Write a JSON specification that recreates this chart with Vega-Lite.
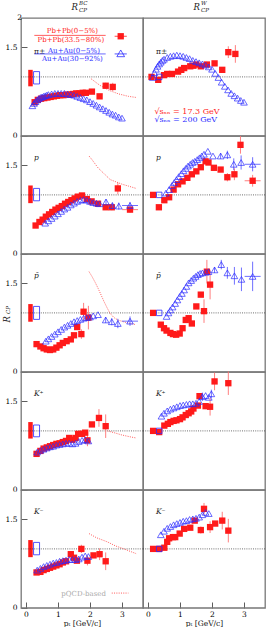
{
"$schema":"https://vega.github.io/schema/vega-lite/v6.json",
"padding":{"left":2,"top":0,"right":0,"bottom":0},
"background":"white",
"bounds":"flush",
"data":{"values":[
{"c":"BC","r":"pi","s":"tag","t":"π±"},{"c":"W","r":"pi","s":"tag","t":"π±"},
{"c":"BC","r":"p","s":"tag","t":"p"},{"c":"W","r":"p","s":"tag","t":"p"},
{"c":"BC","r":"pb","s":"tag","t":"p̄"},{"c":"W","r":"pb","s":"tag","t":"p̄"},
{"c":"BC","r":"kp","s":"tag","t":"K⁺"},{"c":"W","r":"kp","s":"tag","t":"K⁺"},
{"c":"BC","r":"km","s":"tag","t":"K⁻"},{"c":"W","r":"km","s":"tag","t":"K⁻"},
{"c":"BC","r":"pi","s":"SPb","x":0.14,"lo":0.84,"hi":1.12},{"c":"BC","r":"pi","s":"SAu","x":0.33,"lo":0.88,"hi":1.09},
{"c":"BC","r":"p","s":"SPb","x":0.14,"lo":0.86,"hi":1.16},{"c":"BC","r":"p","s":"SAu","x":0.33,"lo":0.90,"hi":1.11},
{"c":"BC","r":"pb","s":"SPb","x":0.14,"lo":0.85,"hi":1.15},{"c":"BC","r":"pb","s":"SAu","x":0.33,"lo":0.89,"hi":1.11},
{"c":"BC","r":"kp","s":"SPb","x":0.14,"lo":0.87,"hi":1.15},{"c":"BC","r":"kp","s":"SAu","x":0.33,"lo":0.90,"hi":1.10},
{"c":"BC","r":"km","s":"SPb","x":0.14,"lo":0.86,"hi":1.15},{"c":"BC","r":"km","s":"SAu","x":0.33,"lo":0.90,"hi":1.11},
{"c":"W","r":"pi","s":"AuN","x":0.35,"y":1.0},{"c":"W","r":"p","s":"AuN","x":0.35,"y":1.0},{"c":"W","r":"pb","s":"AuN","x":0.35,"y":1.0},{"c":"W","r":"kp","s":"AuN","x":0.35,"y":1.0},{"c":"W","r":"km","s":"AuN","x":0.35,"y":1.0},

{"c":"BC","r":"pi","s":"Pb","x":0.27,"y":0.57},{"c":"BC","r":"pi","s":"Pb","x":0.37,"y":0.61},{"c":"BC","r":"pi","s":"Pb","x":0.47,"y":0.63},{"c":"BC","r":"pi","s":"Pb","x":0.57,"y":0.64},{"c":"BC","r":"pi","s":"Pb","x":0.67,"y":0.65},{"c":"BC","r":"pi","s":"Pb","x":0.77,"y":0.66},{"c":"BC","r":"pi","s":"Pb","x":0.87,"y":0.67},{"c":"BC","r":"pi","s":"Pb","x":0.97,"y":0.68},{"c":"BC","r":"pi","s":"Pb","x":1.07,"y":0.69},{"c":"BC","r":"pi","s":"Pb","x":1.17,"y":0.69},{"c":"BC","r":"pi","s":"Pb","x":1.27,"y":0.70},{"c":"BC","r":"pi","s":"Pb","x":1.37,"y":0.70},{"c":"BC","r":"pi","s":"Pb","x":1.47,"y":0.71},{"c":"BC","r":"pi","s":"Pb","x":1.57,"y":0.72},{"c":"BC","r":"pi","s":"Pb","x":1.67,"y":0.72},{"c":"BC","r":"pi","s":"Pb","x":1.77,"y":0.73},{"c":"BC","r":"pi","s":"Pb","x":1.87,"y":0.73},{"c":"BC","r":"pi","s":"Pb","x":2.06,"y":0.75},{"c":"BC","r":"pi","s":"Pb","x":2.3,"y":0.67},{"c":"BC","r":"pi","s":"Pb","x":2.49,"y":0.85,"e":0.05},{"c":"BC","r":"pi","s":"Pb","x":2.71,"y":0.83,"e":0.07},

{"c":"BC","r":"pi","s":"Au","x":0.2,"y":0.51},{"c":"BC","r":"pi","s":"Au","x":0.25,"y":0.55},{"c":"BC","r":"pi","s":"Au","x":0.3,"y":0.58},{"c":"BC","r":"pi","s":"Au","x":0.35,"y":0.61},{"c":"BC","r":"pi","s":"Au","x":0.4,"y":0.63},{"c":"BC","r":"pi","s":"Au","x":0.45,"y":0.65},{"c":"BC","r":"pi","s":"Au","x":0.5,"y":0.66},{"c":"BC","r":"pi","s":"Au","x":0.55,"y":0.67},{"c":"BC","r":"pi","s":"Au","x":0.6,"y":0.68},{"c":"BC","r":"pi","s":"Au","x":0.65,"y":0.69},{"c":"BC","r":"pi","s":"Au","x":0.7,"y":0.70},{"c":"BC","r":"pi","s":"Au","x":0.8,"y":0.71},{"c":"BC","r":"pi","s":"Au","x":0.9,"y":0.72},{"c":"BC","r":"pi","s":"Au","x":1.0,"y":0.72},{"c":"BC","r":"pi","s":"Au","x":1.1,"y":0.72},{"c":"BC","r":"pi","s":"Au","x":1.2,"y":0.72},{"c":"BC","r":"pi","s":"Au","x":1.3,"y":0.71},{"c":"BC","r":"pi","s":"Au","x":1.4,"y":0.70},{"c":"BC","r":"pi","s":"Au","x":1.5,"y":0.69},{"c":"BC","r":"pi","s":"Au","x":1.6,"y":0.67},{"c":"BC","r":"pi","s":"Au","x":1.7,"y":0.65},{"c":"BC","r":"pi","s":"Au","x":1.8,"y":0.63},{"c":"BC","r":"pi","s":"Au","x":1.9,"y":0.61},{"c":"BC","r":"pi","s":"Au","x":2.0,"y":0.58},{"c":"BC","r":"pi","s":"Au","x":2.1,"y":0.55},{"c":"BC","r":"pi","s":"Au","x":2.2,"y":0.52},{"c":"BC","r":"pi","s":"Au","x":2.3,"y":0.49},{"c":"BC","r":"pi","s":"Au","x":2.4,"y":0.46},{"c":"BC","r":"pi","s":"Au","x":2.5,"y":0.43},{"c":"BC","r":"pi","s":"Au","x":2.6,"y":0.40},{"c":"BC","r":"pi","s":"Au","x":2.7,"y":0.37},{"c":"BC","r":"pi","s":"Au","x":2.8,"y":0.35},{"c":"BC","r":"pi","s":"Au","x":2.9,"y":0.32},{"c":"BC","r":"pi","s":"Au","x":3.0,"y":0.30},
{"c":"BC","r":"pi","s":"Q","x":2.03,"y":0.97},{"c":"BC","r":"pi","s":"Q","x":2.3,"y":0.86},{"c":"BC","r":"pi","s":"Q","x":2.6,"y":0.77},{"c":"BC","r":"pi","s":"Q","x":2.9,"y":0.71},{"c":"BC","r":"pi","s":"Q","x":3.2,"y":0.67},{"c":"BC","r":"pi","s":"Q","x":3.46,"y":0.65},

{"c":"W","r":"pi","s":"Pb","x":0.11,"y":1.0},{"c":"W","r":"pi","s":"Pb","x":0.32,"y":0.95},{"c":"W","r":"pi","s":"Pb","x":0.5,"y":1.03},{"c":"W","r":"pi","s":"Pb","x":0.6,"y":1.05},{"c":"W","r":"pi","s":"Pb","x":0.75,"y":1.05},{"c":"W","r":"pi","s":"Pb","x":0.94,"y":1.09},{"c":"W","r":"pi","s":"Pb","x":1.04,"y":1.12},{"c":"W","r":"pi","s":"Pb","x":1.13,"y":1.15},{"c":"W","r":"pi","s":"Pb","x":1.32,"y":1.18},{"c":"W","r":"pi","s":"Pb","x":1.42,"y":1.19},{"c":"W","r":"pi","s":"Pb","x":1.51,"y":1.21},{"c":"W","r":"pi","s":"Pb","x":1.65,"y":1.18},{"c":"W","r":"pi","s":"Pb","x":1.84,"y":1.21},{"c":"W","r":"pi","s":"Pb","x":2.08,"y":1.23},{"c":"W","r":"pi","s":"Pb","x":2.32,"y":1.12},{"c":"W","r":"pi","s":"Pb","x":2.51,"y":1.42,"e":0.1},{"c":"W","r":"pi","s":"Pb","x":2.73,"y":1.39,"e":0.15},

{"c":"W","r":"pi","s":"Au","x":0.15,"y":0.99},{"c":"W","r":"pi","s":"Au","x":0.2,"y":1.07},{"c":"W","r":"pi","s":"Au","x":0.25,"y":1.13},{"c":"W","r":"pi","s":"Au","x":0.3,"y":1.18},{"c":"W","r":"pi","s":"Au","x":0.35,"y":1.22},{"c":"W","r":"pi","s":"Au","x":0.4,"y":1.25},{"c":"W","r":"pi","s":"Au","x":0.45,"y":1.28},{"c":"W","r":"pi","s":"Au","x":0.5,"y":1.30},{"c":"W","r":"pi","s":"Au","x":0.6,"y":1.33},{"c":"W","r":"pi","s":"Au","x":0.7,"y":1.35},{"c":"W","r":"pi","s":"Au","x":0.8,"y":1.36},{"c":"W","r":"pi","s":"Au","x":0.9,"y":1.37},{"c":"W","r":"pi","s":"Au","x":1.0,"y":1.36},{"c":"W","r":"pi","s":"Au","x":1.1,"y":1.35},{"c":"W","r":"pi","s":"Au","x":1.2,"y":1.33},{"c":"W","r":"pi","s":"Au","x":1.3,"y":1.31},{"c":"W","r":"pi","s":"Au","x":1.4,"y":1.28},{"c":"W","r":"pi","s":"Au","x":1.5,"y":1.26},{"c":"W","r":"pi","s":"Au","x":1.6,"y":1.24},{"c":"W","r":"pi","s":"Au","x":1.7,"y":1.22},{"c":"W","r":"pi","s":"Au","x":1.8,"y":1.20},{"c":"W","r":"pi","s":"Au","x":1.9,"y":1.17},{"c":"W","r":"pi","s":"Au","x":2.0,"y":1.13},{"c":"W","r":"pi","s":"Au","x":2.1,"y":1.06},{"c":"W","r":"pi","s":"Au","x":2.2,"y":0.99},{"c":"W","r":"pi","s":"Au","x":2.3,"y":0.91},{"c":"W","r":"pi","s":"Au","x":2.4,"y":0.84},{"c":"W","r":"pi","s":"Au","x":2.5,"y":0.78},{"c":"W","r":"pi","s":"Au","x":2.6,"y":0.72},{"c":"W","r":"pi","s":"Au","x":2.7,"y":0.68},{"c":"W","r":"pi","s":"Au","x":2.8,"y":0.64},{"c":"W","r":"pi","s":"Au","x":2.9,"y":0.60},{"c":"W","r":"pi","s":"Au","x":3.0,"y":0.57},

{"c":"BC","r":"p","s":"Pb","x":0.30,"y":0.48},{"c":"BC","r":"p","s":"Pb","x":0.42,"y":0.54},{"c":"BC","r":"p","s":"Pb","x":0.52,"y":0.58},{"c":"BC","r":"p","s":"Pb","x":0.62,"y":0.63},{"c":"BC","r":"p","s":"Pb","x":0.72,"y":0.67},{"c":"BC","r":"p","s":"Pb","x":0.82,"y":0.71},{"c":"BC","r":"p","s":"Pb","x":0.92,"y":0.75},{"c":"BC","r":"p","s":"Pb","x":1.02,"y":0.78},{"c":"BC","r":"p","s":"Pb","x":1.12,"y":0.81},{"c":"BC","r":"p","s":"Pb","x":1.22,"y":0.85},{"c":"BC","r":"p","s":"Pb","x":1.32,"y":0.88},{"c":"BC","r":"p","s":"Pb","x":1.42,"y":0.91},{"c":"BC","r":"p","s":"Pb","x":1.52,"y":0.94},{"c":"BC","r":"p","s":"Pb","x":1.62,"y":0.97},{"c":"BC","r":"p","s":"Pb","x":1.75,"y":0.99},{"c":"BC","r":"p","s":"Pb","x":1.9,"y":0.93},{"c":"BC","r":"p","s":"Pb","x":2.05,"y":0.89},{"c":"BC","r":"p","s":"Pb","x":2.25,"y":0.85},{"c":"BC","r":"p","s":"Pb","x":2.49,"y":0.79,"e":0.04},{"c":"BC","r":"p","s":"Pb","x":2.68,"y":0.79,"e":0.05},{"c":"BC","r":"p","s":"Pb","x":2.87,"y":1.11,"e":0.1},{"c":"BC","r":"p","s":"Pb","x":3.25,"y":0.75,"e":0.05,"xe":0.25},

{"c":"BC","r":"p","s":"Au","x":0.6,"y":0.52},{"c":"BC","r":"p","s":"Au","x":0.7,"y":0.56},{"c":"BC","r":"p","s":"Au","x":0.8,"y":0.60},{"c":"BC","r":"p","s":"Au","x":0.9,"y":0.64},{"c":"BC","r":"p","s":"Au","x":1.0,"y":0.68},{"c":"BC","r":"p","s":"Au","x":1.1,"y":0.72},{"c":"BC","r":"p","s":"Au","x":1.2,"y":0.76},{"c":"BC","r":"p","s":"Au","x":1.3,"y":0.79},{"c":"BC","r":"p","s":"Au","x":1.4,"y":0.83},{"c":"BC","r":"p","s":"Au","x":1.5,"y":0.86},{"c":"BC","r":"p","s":"Au","x":1.6,"y":0.89},{"c":"BC","r":"p","s":"Au","x":1.7,"y":0.91},{"c":"BC","r":"p","s":"Au","x":1.8,"y":0.92},{"c":"BC","r":"p","s":"Au","x":1.9,"y":0.91},{"c":"BC","r":"p","s":"Au","x":2.0,"y":0.89},{"c":"BC","r":"p","s":"Au","x":2.1,"y":0.87},{"c":"BC","r":"p","s":"Au","x":2.2,"y":0.86},{"c":"BC","r":"p","s":"Au","x":2.3,"y":0.85},{"c":"BC","r":"p","s":"Au","x":2.5,"y":0.88,"e":0.05},{"c":"BC","r":"p","s":"Au","x":2.7,"y":0.82,"e":0.05},{"c":"BC","r":"p","s":"Au","x":2.9,"y":0.81,"e":0.06},{"c":"BC","r":"p","s":"Au","x":3.25,"y":0.82,"e":0.06,"xe":0.25},
{"c":"BC","r":"p","s":"Q","x":1.97,"y":1.66},{"c":"BC","r":"p","s":"Q","x":2.06,"y":1.60},{"c":"BC","r":"p","s":"Q","x":2.25,"y":1.46},{"c":"BC","r":"p","s":"Q","x":2.44,"y":1.36},{"c":"BC","r":"p","s":"Q","x":2.63,"y":1.26},{"c":"BC","r":"p","s":"Q","x":2.82,"y":1.22},{"c":"BC","r":"p","s":"Q","x":3.01,"y":1.18},{"c":"BC","r":"p","s":"Q","x":3.2,"y":1.15},{"c":"BC","r":"p","s":"Q","x":3.44,"y":1.11},

{"c":"W","r":"p","s":"Pb","x":0.16,"y":1.0},{"c":"W","r":"p","s":"Pb","x":0.34,"y":0.79},{"c":"W","r":"p","s":"Pb","x":0.51,"y":0.91},{"c":"W","r":"p","s":"Pb","x":0.66,"y":0.96},{"c":"W","r":"p","s":"Pb","x":0.8,"y":1.09},{"c":"W","r":"p","s":"Pb","x":0.94,"y":1.18},{"c":"W","r":"p","s":"Pb","x":1.08,"y":1.23},{"c":"W","r":"p","s":"Pb","x":1.23,"y":1.29},{"c":"W","r":"p","s":"Pb","x":1.37,"y":1.35},{"c":"W","r":"p","s":"Pb","x":1.51,"y":1.40},{"c":"W","r":"p","s":"Pb","x":1.65,"y":1.47},{"c":"W","r":"p","s":"Pb","x":1.8,"y":1.57},{"c":"W","r":"p","s":"Pb","x":1.89,"y":1.55},{"c":"W","r":"p","s":"Pb","x":2.06,"y":1.46},{"c":"W","r":"p","s":"Pb","x":2.27,"y":1.43},{"c":"W","r":"p","s":"Pb","x":2.48,"y":1.30,"e":0.07},{"c":"W","r":"p","s":"Pb","x":2.7,"y":1.35,"e":0.1},{"c":"W","r":"p","s":"Pb","x":2.89,"y":1.85,"e":0.15},{"c":"W","r":"p","s":"Pb","x":3.27,"y":1.24,"e":0.1,"xe":0.25},

{"c":"W","r":"p","s":"Au","x":0.56,"y":1.03},{"c":"W","r":"p","s":"Au","x":0.66,"y":1.09},{"c":"W","r":"p","s":"Au","x":0.75,"y":1.16},{"c":"W","r":"p","s":"Au","x":0.82,"y":1.21},{"c":"W","r":"p","s":"Au","x":0.89,"y":1.26},{"c":"W","r":"p","s":"Au","x":0.96,"y":1.31},{"c":"W","r":"p","s":"Au","x":1.04,"y":1.36},{"c":"W","r":"p","s":"Au","x":1.11,"y":1.41},{"c":"W","r":"p","s":"Au","x":1.18,"y":1.45},{"c":"W","r":"p","s":"Au","x":1.25,"y":1.49},{"c":"W","r":"p","s":"Au","x":1.32,"y":1.52},{"c":"W","r":"p","s":"Au","x":1.39,"y":1.55},{"c":"W","r":"p","s":"Au","x":1.46,"y":1.57},{"c":"W","r":"p","s":"Au","x":1.54,"y":1.60},{"c":"W","r":"p","s":"Au","x":1.61,"y":1.63},{"c":"W","r":"p","s":"Au","x":1.68,"y":1.66},{"c":"W","r":"p","s":"Au","x":1.75,"y":1.69},{"c":"W","r":"p","s":"Au","x":1.87,"y":1.74},{"c":"W","r":"p","s":"Au","x":2.03,"y":1.66},{"c":"W","r":"p","s":"Au","x":2.27,"y":1.66,"e":0.05},{"c":"W","r":"p","s":"Au","x":2.48,"y":1.68,"e":0.07},{"c":"W","r":"p","s":"Au","x":2.68,"y":1.52,"e":0.1},{"c":"W","r":"p","s":"Au","x":2.91,"y":1.55,"e":0.12},{"c":"W","r":"p","s":"Au","x":3.27,"y":1.52,"e":0.12,"xe":0.25},

{"c":"BC","r":"pb","s":"Pb","x":0.33,"y":0.47},{"c":"BC","r":"pb","s":"Pb","x":0.45,"y":0.43},{"c":"BC","r":"pb","s":"Pb","x":0.55,"y":0.40},{"c":"BC","r":"pb","s":"Pb","x":0.65,"y":0.38},{"c":"BC","r":"pb","s":"Pb","x":0.75,"y":0.37},{"c":"BC","r":"pb","s":"Pb","x":0.85,"y":0.38},{"c":"BC","r":"pb","s":"Pb","x":0.95,"y":0.41},{"c":"BC","r":"pb","s":"Pb","x":1.05,"y":0.45},{"c":"BC","r":"pb","s":"Pb","x":1.15,"y":0.49},{"c":"BC","r":"pb","s":"Pb","x":1.27,"y":0.52},{"c":"BC","r":"pb","s":"Pb","x":1.4,"y":0.55},{"c":"BC","r":"pb","s":"Pb","x":1.5,"y":0.62},{"c":"BC","r":"pb","s":"Pb","x":1.6,"y":0.76},{"c":"BC","r":"pb","s":"Pb","x":1.73,"y":0.64,"e":0.08},{"c":"BC","r":"pb","s":"Pb","x":1.8,"y":1.02,"e":0.15},{"c":"BC","r":"pb","s":"Pb","x":1.95,"y":0.92,"e":0.2},

{"c":"BC","r":"pb","s":"Au","x":0.62,"y":0.52},{"c":"BC","r":"pb","s":"Au","x":0.7,"y":0.56},{"c":"BC","r":"pb","s":"Au","x":0.8,"y":0.60},{"c":"BC","r":"pb","s":"Au","x":0.9,"y":0.64},{"c":"BC","r":"pb","s":"Au","x":1.0,"y":0.68},{"c":"BC","r":"pb","s":"Au","x":1.1,"y":0.72},{"c":"BC","r":"pb","s":"Au","x":1.2,"y":0.76},{"c":"BC","r":"pb","s":"Au","x":1.3,"y":0.79},{"c":"BC","r":"pb","s":"Au","x":1.4,"y":0.82},{"c":"BC","r":"pb","s":"Au","x":1.5,"y":0.85},{"c":"BC","r":"pb","s":"Au","x":1.6,"y":0.87},{"c":"BC","r":"pb","s":"Au","x":1.7,"y":0.89},{"c":"BC","r":"pb","s":"Au","x":1.8,"y":0.91},{"c":"BC","r":"pb","s":"Au","x":1.9,"y":0.92},{"c":"BC","r":"pb","s":"Au","x":2.0,"y":0.93},{"c":"BC","r":"pb","s":"Au","x":2.1,"y":0.95},{"c":"BC","r":"pb","s":"Au","x":2.25,"y":0.97},{"c":"BC","r":"pb","s":"Au","x":2.49,"y":0.88,"e":0.05},{"c":"BC","r":"pb","s":"Au","x":2.68,"y":0.85,"e":0.06},{"c":"BC","r":"pb","s":"Au","x":2.87,"y":0.82,"e":0.08},{"c":"BC","r":"pb","s":"Au","x":3.25,"y":0.86,"e":0.08,"xe":0.25},
{"c":"BC","r":"pb","s":"Q","x":1.97,"y":1.70},{"c":"BC","r":"pb","s":"Q","x":2.06,"y":1.62},{"c":"BC","r":"pb","s":"Q","x":2.16,"y":1.52},{"c":"BC","r":"pb","s":"Q","x":2.25,"y":1.42},{"c":"BC","r":"pb","s":"Q","x":2.35,"y":1.30},{"c":"BC","r":"pb","s":"Q","x":2.44,"y":1.19},{"c":"BC","r":"pb","s":"Q","x":2.54,"y":1.08},{"c":"BC","r":"pb","s":"Q","x":2.63,"y":0.99},{"c":"BC","r":"pb","s":"Q","x":2.75,"y":0.92},{"c":"BC","r":"pb","s":"Q","x":2.87,"y":0.88},{"c":"BC","r":"pb","s":"Q","x":3.1,"y":0.84},{"c":"BC","r":"pb","s":"Q","x":3.44,"y":0.80},

{"c":"W","r":"pb","s":"Pb","x":0.16,"y":1.0},{"c":"W","r":"pb","s":"Pb","x":0.4,"y":0.80},{"c":"W","r":"pb","s":"Pb","x":0.5,"y":0.74},{"c":"W","r":"pb","s":"Pb","x":0.58,"y":0.70},{"c":"W","r":"pb","s":"Pb","x":0.7,"y":0.66},{"c":"W","r":"pb","s":"Pb","x":0.78,"y":0.64},{"c":"W","r":"pb","s":"Pb","x":0.88,"y":0.63},{"c":"W","r":"pb","s":"Pb","x":0.99,"y":0.65},{"c":"W","r":"pb","s":"Pb","x":1.08,"y":0.74},{"c":"W","r":"pb","s":"Pb","x":1.18,"y":0.88},{"c":"W","r":"pb","s":"Pb","x":1.27,"y":0.91},{"c":"W","r":"pb","s":"Pb","x":1.37,"y":0.82},{"c":"W","r":"pb","s":"Pb","x":1.51,"y":1.11},{"c":"W","r":"pb","s":"Pb","x":1.65,"y":1.31},{"c":"W","r":"pb","s":"Pb","x":1.75,"y":1.03,"e":0.2},{"c":"W","r":"pb","s":"Pb","x":1.84,"y":1.70,"e":0.2},{"c":"W","r":"pb","s":"Pb","x":1.94,"y":1.48,"e":0.25},

{"c":"W","r":"pb","s":"Au","x":0.58,"y":0.94},{"c":"W","r":"pb","s":"Au","x":0.64,"y":1.0},{"c":"W","r":"pb","s":"Au","x":0.70,"y":1.05},{"c":"W","r":"pb","s":"Au","x":0.77,"y":1.10},{"c":"W","r":"pb","s":"Au","x":0.85,"y":1.16},{"c":"W","r":"pb","s":"Au","x":0.92,"y":1.22},{"c":"W","r":"pb","s":"Au","x":0.99,"y":1.28},{"c":"W","r":"pb","s":"Au","x":1.06,"y":1.33},{"c":"W","r":"pb","s":"Au","x":1.13,"y":1.39},{"c":"W","r":"pb","s":"Au","x":1.2,"y":1.45},{"c":"W","r":"pb","s":"Au","x":1.27,"y":1.51},{"c":"W","r":"pb","s":"Au","x":1.35,"y":1.55},{"c":"W","r":"pb","s":"Au","x":1.42,"y":1.59},{"c":"W","r":"pb","s":"Au","x":1.49,"y":1.62},{"c":"W","r":"pb","s":"Au","x":1.56,"y":1.65},{"c":"W","r":"pb","s":"Au","x":1.63,"y":1.67},{"c":"W","r":"pb","s":"Au","x":1.7,"y":1.68},{"c":"W","r":"pb","s":"Au","x":1.8,"y":1.69},{"c":"W","r":"pb","s":"Au","x":1.89,"y":1.70},{"c":"W","r":"pb","s":"Au","x":2.08,"y":1.73,"e":0.05},{"c":"W","r":"pb","s":"Au","x":2.29,"y":1.82,"e":0.08},{"c":"W","r":"pb","s":"Au","x":2.48,"y":1.68,"e":0.1},{"c":"W","r":"pb","s":"Au","x":2.7,"y":1.63,"e":0.15},{"c":"W","r":"pb","s":"Au","x":2.92,"y":1.57,"e":0.2},{"c":"W","r":"pb","s":"Au","x":3.27,"y":1.62,"e":0.25,"xe":0.25},

{"c":"BC","r":"kp","s":"Pb","x":0.33,"y":0.61},{"c":"BC","r":"kp","s":"Pb","x":0.45,"y":0.66},{"c":"BC","r":"kp","s":"Pb","x":0.55,"y":0.70},{"c":"BC","r":"kp","s":"Pb","x":0.65,"y":0.72},{"c":"BC","r":"kp","s":"Pb","x":0.75,"y":0.74},{"c":"BC","r":"kp","s":"Pb","x":0.85,"y":0.76},{"c":"BC","r":"kp","s":"Pb","x":0.95,"y":0.78},{"c":"BC","r":"kp","s":"Pb","x":1.05,"y":0.79},{"c":"BC","r":"kp","s":"Pb","x":1.15,"y":0.81},{"c":"BC","r":"kp","s":"Pb","x":1.25,"y":0.83},{"c":"BC","r":"kp","s":"Pb","x":1.35,"y":0.88},{"c":"BC","r":"kp","s":"Pb","x":1.45,"y":0.85},{"c":"BC","r":"kp","s":"Pb","x":1.55,"y":0.88},{"c":"BC","r":"kp","s":"Pb","x":1.63,"y":0.95},{"c":"BC","r":"kp","s":"Pb","x":1.75,"y":0.95},{"c":"BC","r":"kp","s":"Pb","x":1.85,"y":0.97},{"c":"BC","r":"kp","s":"Pb","x":1.92,"y":0.84,"e":0.1},{"c":"BC","r":"kp","s":"Pb","x":2.06,"y":1.11},{"c":"BC","r":"kp","s":"Pb","x":2.28,"y":1.22,"e":0.15},{"c":"BC","r":"kp","s":"Pb","x":2.49,"y":1.08,"e":0.2},

{"c":"BC","r":"kp","s":"Au","x":0.35,"y":0.64},{"c":"BC","r":"kp","s":"Au","x":0.45,"y":0.67},{"c":"BC","r":"kp","s":"Au","x":0.55,"y":0.69},{"c":"BC","r":"kp","s":"Au","x":0.65,"y":0.71},{"c":"BC","r":"kp","s":"Au","x":0.75,"y":0.73},{"c":"BC","r":"kp","s":"Au","x":0.85,"y":0.74},{"c":"BC","r":"kp","s":"Au","x":0.95,"y":0.76},{"c":"BC","r":"kp","s":"Au","x":1.05,"y":0.77},{"c":"BC","r":"kp","s":"Au","x":1.15,"y":0.78},{"c":"BC","r":"kp","s":"Au","x":1.25,"y":0.79},{"c":"BC","r":"kp","s":"Au","x":1.35,"y":0.79},{"c":"BC","r":"kp","s":"Au","x":1.45,"y":0.78},{"c":"BC","r":"kp","s":"Au","x":1.55,"y":0.79},{"c":"BC","r":"kp","s":"Au","x":1.65,"y":0.82},{"c":"BC","r":"kp","s":"Au","x":1.75,"y":0.84},{"c":"BC","r":"kp","s":"Au","x":1.85,"y":0.85},{"c":"BC","r":"kp","s":"Au","x":1.95,"y":0.83},
{"c":"BC","r":"kp","s":"Q","x":2.55,"y":1.0},{"c":"BC","r":"kp","s":"Q","x":2.75,"y":0.97},{"c":"BC","r":"kp","s":"Q","x":3.0,"y":0.93},{"c":"BC","r":"kp","s":"Q","x":3.25,"y":0.9},{"c":"BC","r":"kp","s":"Q","x":3.44,"y":0.88},

{"c":"W","r":"kp","s":"Pb","x":0.16,"y":1.0},{"c":"W","r":"kp","s":"Pb","x":0.35,"y":0.98},{"c":"W","r":"kp","s":"Pb","x":0.51,"y":1.09},{"c":"W","r":"kp","s":"Pb","x":0.62,"y":1.12},{"c":"W","r":"kp","s":"Pb","x":0.7,"y":1.15},{"c":"W","r":"kp","s":"Pb","x":0.8,"y":1.17},{"c":"W","r":"kp","s":"Pb","x":0.89,"y":1.18},{"c":"W","r":"kp","s":"Pb","x":1.0,"y":1.2},{"c":"W","r":"kp","s":"Pb","x":1.08,"y":1.23},{"c":"W","r":"kp","s":"Pb","x":1.18,"y":1.27},{"c":"W","r":"kp","s":"Pb","x":1.27,"y":1.30},{"c":"W","r":"kp","s":"Pb","x":1.35,"y":1.33},{"c":"W","r":"kp","s":"Pb","x":1.42,"y":1.38},{"c":"W","r":"kp","s":"Pb","x":1.56,"y":1.43},{"c":"W","r":"kp","s":"Pb","x":1.61,"y":1.59},{"c":"W","r":"kp","s":"Pb","x":1.8,"y":1.42,"e":0.05},{"c":"W","r":"kp","s":"Pb","x":1.94,"y":1.41,"e":0.15},{"c":"W","r":"kp","s":"Pb","x":2.08,"y":1.84,"e":0.15},{"c":"W","r":"kp","s":"Pb","x":2.51,"y":1.81,"e":0.2},

{"c":"W","r":"kp","s":"Au","x":0.42,"y":1.25},{"c":"W","r":"kp","s":"Au","x":0.5,"y":1.30},{"c":"W","r":"kp","s":"Au","x":0.6,"y":1.34},{"c":"W","r":"kp","s":"Au","x":0.7,"y":1.37},{"c":"W","r":"kp","s":"Au","x":0.8,"y":1.39},{"c":"W","r":"kp","s":"Au","x":0.9,"y":1.41},{"c":"W","r":"kp","s":"Au","x":1.0,"y":1.43},{"c":"W","r":"kp","s":"Au","x":1.1,"y":1.44},{"c":"W","r":"kp","s":"Au","x":1.2,"y":1.45},{"c":"W","r":"kp","s":"Au","x":1.3,"y":1.46},{"c":"W","r":"kp","s":"Au","x":1.4,"y":1.46},{"c":"W","r":"kp","s":"Au","x":1.5,"y":1.47},{"c":"W","r":"kp","s":"Au","x":1.6,"y":1.50},{"c":"W","r":"kp","s":"Au","x":1.7,"y":1.58,"e":0.07},{"c":"W","r":"kp","s":"Au","x":1.8,"y":1.60},{"c":"W","r":"kp","s":"Au","x":1.9,"y":1.57},{"c":"W","r":"kp","s":"Au","x":1.98,"y":1.63,"e":0.07},

{"c":"BC","r":"km","s":"Pb","x":0.33,"y":0.60},{"c":"BC","r":"km","s":"Pb","x":0.45,"y":0.61},{"c":"BC","r":"km","s":"Pb","x":0.55,"y":0.64},{"c":"BC","r":"km","s":"Pb","x":0.65,"y":0.66},{"c":"BC","r":"km","s":"Pb","x":0.75,"y":0.68},{"c":"BC","r":"km","s":"Pb","x":0.85,"y":0.70},{"c":"BC","r":"km","s":"Pb","x":0.95,"y":0.72},{"c":"BC","r":"km","s":"Pb","x":1.05,"y":0.74},{"c":"BC","r":"km","s":"Pb","x":1.15,"y":0.77},{"c":"BC","r":"km","s":"Pb","x":1.25,"y":0.79},{"c":"BC","r":"km","s":"Pb","x":1.4,"y":0.91},{"c":"BC","r":"km","s":"Pb","x":1.5,"y":0.85},{"c":"BC","r":"km","s":"Pb","x":1.59,"y":0.80},{"c":"BC","r":"km","s":"Pb","x":1.73,"y":1.00,"e":0.07},{"c":"BC","r":"km","s":"Pb","x":1.92,"y":0.80,"e":0.08},{"c":"BC","r":"km","s":"Pb","x":2.11,"y":0.89},{"c":"BC","r":"km","s":"Pb","x":2.3,"y":0.91,"e":0.1},{"c":"BC","r":"km","s":"Pb","x":2.49,"y":0.79,"e":0.15},

{"c":"BC","r":"km","s":"Au","x":0.35,"y":0.64},{"c":"BC","r":"km","s":"Au","x":0.45,"y":0.67},{"c":"BC","r":"km","s":"Au","x":0.55,"y":0.70},{"c":"BC","r":"km","s":"Au","x":0.65,"y":0.72},{"c":"BC","r":"km","s":"Au","x":0.75,"y":0.74},{"c":"BC","r":"km","s":"Au","x":0.85,"y":0.76},{"c":"BC","r":"km","s":"Au","x":0.95,"y":0.77},{"c":"BC","r":"km","s":"Au","x":1.05,"y":0.79},{"c":"BC","r":"km","s":"Au","x":1.15,"y":0.80},{"c":"BC","r":"km","s":"Au","x":1.25,"y":0.81},{"c":"BC","r":"km","s":"Au","x":1.35,"y":0.82},{"c":"BC","r":"km","s":"Au","x":1.45,"y":0.82},{"c":"BC","r":"km","s":"Au","x":1.55,"y":0.82},{"c":"BC","r":"km","s":"Au","x":1.65,"y":0.83},{"c":"BC","r":"km","s":"Au","x":1.75,"y":0.86},{"c":"BC","r":"km","s":"Au","x":1.85,"y":0.88},{"c":"BC","r":"km","s":"Au","x":1.95,"y":0.87},
{"c":"BC","r":"km","s":"Q","x":1.97,"y":1.26},{"c":"BC","r":"km","s":"Q","x":2.2,"y":1.19},{"c":"BC","r":"km","s":"Q","x":2.54,"y":1.12},{"c":"BC","r":"km","s":"Q","x":2.8,"y":1.05},{"c":"BC","r":"km","s":"Q","x":3.01,"y":1.01},{"c":"BC","r":"km","s":"Q","x":3.2,"y":0.97},{"c":"BC","r":"km","s":"Q","x":3.44,"y":0.92},

{"c":"W","r":"km","s":"Pb","x":0.16,"y":1.0},{"c":"W","r":"km","s":"Pb","x":0.35,"y":1.0},{"c":"W","r":"km","s":"Pb","x":0.51,"y":1.02},{"c":"W","r":"km","s":"Pb","x":0.6,"y":1.12},{"c":"W","r":"km","s":"Pb","x":0.66,"y":1.18},{"c":"W","r":"km","s":"Pb","x":0.78,"y":1.2},{"c":"W","r":"km","s":"Pb","x":0.85,"y":1.20},{"c":"W","r":"km","s":"Pb","x":0.99,"y":1.26},{"c":"W","r":"km","s":"Pb","x":1.13,"y":1.34},{"c":"W","r":"km","s":"Pb","x":1.32,"y":1.36},{"c":"W","r":"km","s":"Pb","x":1.46,"y":1.48},{"c":"W","r":"km","s":"Pb","x":1.65,"y":1.32,"e":0.06},{"c":"W","r":"km","s":"Pb","x":1.75,"y":1.68,"e":0.1},{"c":"W","r":"km","s":"Pb","x":1.94,"y":1.37,"e":0.1},{"c":"W","r":"km","s":"Pb","x":2.1,"y":1.43},{"c":"W","r":"km","s":"Pb","x":2.32,"y":1.48,"e":0.15},{"c":"W","r":"km","s":"Pb","x":2.51,"y":1.31,"e":0.2},

{"c":"W","r":"km","s":"Au","x":0.4,"y":1.24},{"c":"W","r":"km","s":"Au","x":0.5,"y":1.30},{"c":"W","r":"km","s":"Au","x":0.6,"y":1.35},{"c":"W","r":"km","s":"Au","x":0.7,"y":1.38},{"c":"W","r":"km","s":"Au","x":0.8,"y":1.41},{"c":"W","r":"km","s":"Au","x":0.9,"y":1.43},{"c":"W","r":"km","s":"Au","x":1.0,"y":1.45},{"c":"W","r":"km","s":"Au","x":1.1,"y":1.47},{"c":"W","r":"km","s":"Au","x":1.2,"y":1.48},{"c":"W","r":"km","s":"Au","x":1.3,"y":1.50},{"c":"W","r":"km","s":"Au","x":1.4,"y":1.51},{"c":"W","r":"km","s":"Au","x":1.5,"y":1.52},{"c":"W","r":"km","s":"Au","x":1.6,"y":1.54},{"c":"W","r":"km","s":"Au","x":1.7,"y":1.58},{"c":"W","r":"km","s":"Au","x":1.8,"y":1.62},{"c":"W","r":"km","s":"Au","x":1.9,"y":1.60}
]},
"facet":{
 "row":{"field":"r","type":"nominal","sort":["pi","p","pb","kp","km"],"header":{"labels":false,"title":null}},
 "column":{"field":"c","type":"nominal","sort":["BC","W"],"header":{"labels":false,"title":null}}
},
"spacing":{"row":0,"column":0},
"spec":{"width":122,"height":117.8,"layer":[
 {"transform":[{"filter":"datum.s=='SPb'"}],"mark":{"type":"bar","color":"#ff1a1a","width":4.5},
  "encoding":{"x":{"field":"x","type":"quantitative","title":"pₜ  [GeV/c]","scale":{"domain":[0,3.5],"nice":false,"zero":false},"axis":{"values":[0,0.5,1,1.5,2,2.5,3],"format":"~g","labelOverlap":false,"labelSeparation":-40,"labelFlush":false,"labelBound":false,"labelPadding":8,"zindex":3}},
   "y":{"field":"lo","type":"quantitative","title":null,"scale":{"domain":[0,2],"nice":false},"axis":{"values":[0,0.5,1,1.5],"format":"~g","labelOverlap":false,"labelSeparation":-40,"labelFlush":false,"labelBound":false,"labelPadding":10,"zindex":3}},"y2":{"field":"hi"}}},
 {"transform":[{"filter":"datum.s=='SAu'"}],"mark":{"type":"bar","fill":"white","fillOpacity":0,"stroke":"#2a2aff","strokeWidth":0.8,"width":6},
  "encoding":{"x":{"field":"x","type":"quantitative","title":"pₜ  [GeV/c]"},"y":{"field":"lo","type":"quantitative","title":null},"y2":{"field":"hi"}}},
 {"transform":[{"filter":"datum.s=='tag'"}],"mark":{"type":"rule","color":"#333","strokeDash":[1,1.2],"strokeWidth":0.7},"encoding":{"y":{"datum":1,"type":"quantitative","title":null}}},
 {"transform":[{"filter":"datum.s=='Q'"}],"mark":{"type":"line","color":"#ff3030","strokeDash":[1,1.3],"strokeWidth":0.8},"encoding":{"x":{"field":"x","type":"quantitative","title":"pₜ  [GeV/c]"},"y":{"field":"y","type":"quantitative","title":null}}},
 {"transform":[{"filter":"datum.s=='Pb' && datum.e>0"}],"mark":{"type":"errorbar","color":"#ff7070","thickness":0.9},"encoding":{"x":{"field":"x","type":"quantitative","title":"pₜ  [GeV/c]"},"y":{"field":"y","type":"quantitative","title":null},"yError":{"field":"e"}}},
 {"transform":[{"filter":"datum.s=='Pb' && datum.xe>0"}],"mark":{"type":"errorbar","color":"#ff7070","thickness":0.9},"encoding":{"x":{"field":"x","type":"quantitative","title":"pₜ  [GeV/c]"},"xError":{"field":"xe"},"y":{"field":"y","type":"quantitative","title":null}}},
 {"transform":[{"filter":"datum.s=='Pb'"}],"mark":{"type":"square","color":"#ff1a1a","size":40,"opacity":1},"encoding":{"x":{"field":"x","type":"quantitative","title":"pₜ  [GeV/c]"},"y":{"field":"y","type":"quantitative","title":null}}},
 {"transform":[{"filter":"datum.s=='Au' && datum.e>0"}],"mark":{"type":"errorbar","color":"#4a4aff","thickness":0.8},"encoding":{"x":{"field":"x","type":"quantitative","title":"pₜ  [GeV/c]"},"y":{"field":"y","type":"quantitative","title":null},"yError":{"field":"e"}}},
 {"transform":[{"filter":"datum.s=='Au' && datum.xe>0"}],"mark":{"type":"errorbar","color":"#4a4aff","thickness":0.8},"encoding":{"x":{"field":"x","type":"quantitative","title":"pₜ  [GeV/c]"},"xError":{"field":"xe"},"y":{"field":"y","type":"quantitative","title":null}}},
 {"transform":[{"filter":"datum.s=='Au'"}],"mark":{"type":"point","shape":"triangle-up","filled":false,"color":"#2a2aff","size":44,"strokeWidth":0.7,"opacity":1},"encoding":{"x":{"field":"x","type":"quantitative","title":"pₜ  [GeV/c]"},"y":{"field":"y","type":"quantitative","title":null}}},
 {"transform":[{"filter":"datum.s=='AuN'"}],"mark":{"type":"point","shape":"square","filled":false,"color":"#2a2aff","size":30,"strokeWidth":0.8,"opacity":1},"encoding":{"x":{"field":"x","type":"quantitative","title":"pₜ  [GeV/c]"},"y":{"field":"y","type":"quantitative","title":null}}},

 {"transform":[{"filter":"datum.s=='tag' && datum.r=='pi'"}],"mark":{"type":"text","align":"left","baseline":"middle","fontSize":7.5,"color":"#222"},"encoding":{"x":{"datum":0.25,"type":"quantitative"},"y":{"datum":1.42,"type":"quantitative"},"text":{"field":"t"}}},
 {"transform":[{"filter":"datum.s=='tag' && datum.r!='pi'"}],"mark":{"type":"text","align":"left","baseline":"middle","fontSize":7.5,"fontStyle":"italic","color":"#222"},"encoding":{"x":{"datum":0.25,"type":"quantitative"},"y":{"datum":1.63,"type":"quantitative"},"text":{"field":"t"}}},

 {"transform":[{"filter":"datum.s=='tag' && datum.r=='pi'"}],"mark":{"type":"text","align":"center","baseline":"middle","fontSize":8.5,"fontStyle":"italic","color":"#222"},"encoding":{"x":{"datum":1.52,"type":"quantitative"},"y":{"datum":2.19,"type":"quantitative"},"text":{"value":"R"}}},
 {"transform":[{"filter":"datum.s=='tag' && datum.r=='pi'"}],"mark":{"type":"text","align":"left","baseline":"middle","fontSize":5.5,"fontStyle":"italic","color":"#222"},"encoding":{"x":{"datum":1.66,"type":"quantitative"},"y":{"datum":2.26,"type":"quantitative"},"text":{"field":"c"}}},
 {"transform":[{"filter":"datum.s=='tag' && datum.r=='pi'"}],"mark":{"type":"text","align":"left","baseline":"middle","fontSize":5.5,"fontStyle":"italic","color":"#222"},"encoding":{"x":{"datum":1.66,"type":"quantitative"},"y":{"datum":2.14,"type":"quantitative"},"text":{"value":"CP"}}},
 {"transform":[{"filter":"datum.s=='tag' && datum.r=='pb' && datum.c=='BC'"}],"mark":{"type":"text","align":"center","baseline":"middle","angle":270,"fontSize":8.5,"fontStyle":"italic","color":"#222"},"encoding":{"x":{"datum":-0.6,"type":"quantitative"},"y":{"datum":0.89,"type":"quantitative"},"text":{"value":"R"}}},
 {"transform":[{"filter":"datum.s=='tag' && datum.r=='pb' && datum.c=='BC'"}],"mark":{"type":"text","align":"left","baseline":"middle","angle":270,"fontSize":5.5,"fontStyle":"italic","color":"#222"},"encoding":{"x":{"datum":-0.55,"type":"quantitative"},"y":{"datum":0.98,"type":"quantitative"},"text":{"value":"CP"}}},
 {"transform":[{"filter":"datum.s=='tag' && datum.r=='pi' && datum.c=='BC'"}],"mark":{"type":"text","align":"right","baseline":"middle","dx":-4,"fontSize":7.5,"font":"DejaVu Serif","color":"#000"},"encoding":{"x":{"datum":0,"type":"quantitative"},"y":{"datum":2,"type":"quantitative"},"text":{"value":"2"}}},

 {"transform":[{"filter":"datum.s=='tag' && datum.r=='pi' && datum.c=='BC'"}],"mark":{"type":"text","align":"center","baseline":"middle","fontSize":7,"color":"#ff1a1a"},"encoding":{"x":{"datum":1.45,"type":"quantitative"},"y":{"datum":1.78,"type":"quantitative"},"text":{"value":"Pb+Pb(0−5%)"}}},
 {"transform":[{"filter":"datum.s=='tag' && datum.r=='pi' && datum.c=='BC'"}],"mark":{"type":"rule","color":"#ff1a1a","strokeWidth":0.7},"encoding":{"x":{"datum":0.26,"type":"quantitative"},"x2":{"datum":2.49},"y":{"datum":1.705,"type":"quantitative"}}},
 {"transform":[{"filter":"datum.s=='tag' && datum.r=='pi' && datum.c=='BC'"}],"mark":{"type":"text","align":"center","baseline":"middle","fontSize":7,"color":"#ff1a1a"},"encoding":{"x":{"datum":1.40,"type":"quantitative"},"y":{"datum":1.62,"type":"quantitative"},"text":{"value":"Pb+Pb(33.5−80%)"}}},
 {"transform":[{"filter":"datum.s=='tag' && datum.r=='pi' && datum.c=='BC'"}],"mark":{"type":"rule","color":"#ff1a1a","strokeWidth":0.8},"encoding":{"x":{"datum":2.77,"type":"quantitative"},"x2":{"datum":3.15},"y":{"datum":1.69,"type":"quantitative"}}},
 {"transform":[{"filter":"datum.s=='tag' && datum.r=='pi' && datum.c=='BC'"}],"mark":{"type":"square","color":"#ff1a1a","size":40,"opacity":1},"encoding":{"x":{"datum":2.96,"type":"quantitative"},"y":{"datum":1.69,"type":"quantitative"}}},
 {"transform":[{"filter":"datum.s=='tag' && datum.r=='pi' && datum.c=='BC'"}],"mark":{"type":"text","align":"center","baseline":"middle","fontSize":7,"color":"#2a2aff"},"encoding":{"x":{"datum":1.5,"type":"quantitative"},"y":{"datum":1.445,"type":"quantitative"},"text":{"value":"Au+Au(0−5%)"}}},
 {"transform":[{"filter":"datum.s=='tag' && datum.r=='pi' && datum.c=='BC'"}],"mark":{"type":"rule","color":"#2a2aff","strokeWidth":0.7},"encoding":{"x":{"datum":0.26,"type":"quantitative"},"x2":{"datum":2.49},"y":{"datum":1.39,"type":"quantitative"}}},
 {"transform":[{"filter":"datum.s=='tag' && datum.r=='pi' && datum.c=='BC'"}],"mark":{"type":"text","align":"center","baseline":"middle","fontSize":7,"color":"#2a2aff"},"encoding":{"x":{"datum":1.45,"type":"quantitative"},"y":{"datum":1.31,"type":"quantitative"},"text":{"value":"Au+Au(30−92%)"}}},
 {"transform":[{"filter":"datum.s=='tag' && datum.r=='pi' && datum.c=='BC'"}],"mark":{"type":"rule","color":"#2a2aff","strokeWidth":0.8},"encoding":{"x":{"datum":2.77,"type":"quantitative"},"x2":{"datum":3.15},"y":{"datum":1.39,"type":"quantitative"}}},
 {"transform":[{"filter":"datum.s=='tag' && datum.r=='pi' && datum.c=='BC'"}],"mark":{"type":"point","shape":"triangle-up","filled":false,"color":"#2a2aff","size":60,"strokeWidth":0.8,"opacity":1},"encoding":{"x":{"datum":2.96,"type":"quantitative"},"y":{"datum":1.40,"type":"quantitative"}}},

 {"transform":[{"filter":"datum.s=='tag' && datum.r=='pi' && datum.c=='W'"}],"mark":{"type":"text","align":"left","baseline":"middle","fontSize":8,"color":"#ff1a1a"},"encoding":{"x":{"datum":0.2,"type":"quantitative"},"y":{"datum":0.41,"type":"quantitative"},"text":{"value":"√sₙₙ = 17.3 GeV"}}},
 {"transform":[{"filter":"datum.s=='tag' && datum.r=='pi' && datum.c=='W'"}],"mark":{"type":"text","align":"left","baseline":"middle","fontSize":8,"color":"#2a2aff"},"encoding":{"x":{"datum":0.2,"type":"quantitative"},"y":{"datum":0.26,"type":"quantitative"},"text":{"value":"√sₙₙ = 200 GeV"}}},

 {"transform":[{"filter":"datum.s=='tag' && datum.r=='km' && datum.c=='BC'"}],"mark":{"type":"text","align":"center","baseline":"middle","fontSize":7,"color":"#aaaaaa"},"encoding":{"x":{"datum":1.8,"type":"quantitative"},"y":{"datum":0.24,"type":"quantitative"},"text":{"value":"pQCD-based"}}},
 {"transform":[{"filter":"datum.s=='tag' && datum.r=='km' && datum.c=='BC'"}],"mark":{"type":"rule","color":"#ff3030","strokeDash":[1,1.3],"strokeWidth":0.8},"encoding":{"x":{"datum":2.68,"type":"quantitative"},"x2":{"datum":3.2},"y":{"datum":0.25,"type":"quantitative"}}}
]},
"config":{
 "view":{"stroke":"#777","strokeWidth":1.3},
 "axis":{"domain":false,"grid":false,"tickSize":-6,"tickColor":"#333","tickWidth":0.8,"labelFont":"DejaVu Serif","labelFontSize":7.5,"labelColor":"#000","labelOverlap":false,"labelSeparation":-40,"labelFlush":false,"titleFont":"DejaVu Serif","titleFontSize":7.5,"titleFontWeight":"normal","titleColor":"#111","titlePadding":2},
 "text":{"font":"DejaVu Serif"}
}
}
